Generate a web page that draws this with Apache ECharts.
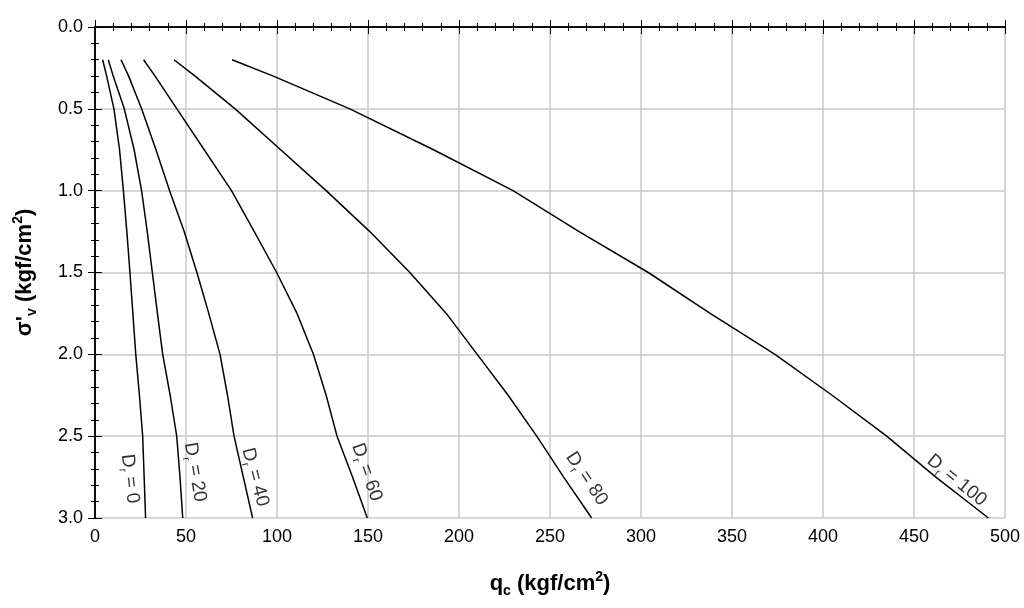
<!DOCTYPE html>
<html>
<head>
<meta charset="utf-8">
<script src="https://cdn.jsdelivr.net/npm/echarts@6/dist/echarts.min.js"></script>
<style>
  html, body { margin: 0; padding: 0; background: #fff; }
  #chart { width: 1024px; height: 608px; }
</style>
</head>
<body>
<div id="chart"></div>
<script>
// vertical effective stress (kgf/cm2), shared by all curves
var sigmaV = [0.2, 0.3, 0.5, 0.75, 1.0, 1.25, 1.5, 1.75, 2.0, 2.25, 2.5, 2.75, 3.0];

// cone resistance qc (kgf/cm2) for each relative density
var qcDr0   = [4.2, 6.4, 10.4, 13.5, 15.6, 17.5, 19.2, 20.8, 22.4, 24.4, 26.2, 27.0, 27.8];
var qcDr20  = [7.3, 10.0, 16.1, 21.5, 25.6, 28.7, 31.5, 34.3, 37.2, 41.3, 44.9, 46.7, 48.2];
var qcDr40  = [14.3, 18.5, 25.6, 33.5, 41.0, 49.0, 56.0, 62.5, 68.7, 72.8, 76.4, 81.5, 86.6];
var qcDr60  = [26.7, 33.0, 45.0, 60.0, 75.0, 87.5, 99.8, 111.0, 120.0, 127.0, 133.0, 141.5, 149.6];
var qcDr80  = [43.4, 55.0, 77.0, 102.0, 127.0, 151.0, 173.0, 193.0, 210.0, 227.0, 242.7, 257.5, 272.9];
var qcDr100 = [75.3, 98.0, 140.0, 186.0, 229.7, 266.0, 304.0, 338.0, 373.6, 405.0, 435.0, 462.0, 490.9];

var densities = [0, 20, 40, 60, 80, 100];
var curves = [qcDr0, qcDr20, qcDr40, qcDr60, qcDr80, qcDr100];

// where the "Dr = .." labels sit along each curve
var labelQc = [19.2, 55.0, 88.0, 149.3, 270.2, 473.5];
var labelSv = [2.76, 2.72, 2.75, 2.72, 2.76, 2.77];
var labelAngle = [-83, -80, -75, -71, -56, -39];

var myChart = echarts.init(document.getElementById("chart"));

var FONT = "Liberation Sans, Arial, sans-serif";

var series = curves.map(function (qc, i) {
  return {
    name: "Dr = " + densities[i],
    type: "line",
    showSymbol: false,
    symbol: "none",
    smooth: false,
    lineStyle: { color: "#000", width: 1.5 },
    data: qc.map(function (q, k) { return [q, sigmaV[k]]; })
  };
});

series.push({
  type: "scatter",
  symbolSize: 0,
  silent: true,
  data: labelQc.map(function (q, i) {
    return {
      value: [q, labelSv[i]],
      label: {
        show: true,
        position: "inside",
        rotate: labelAngle[i],
        formatter: "{m|D}{s|r}{m| = " + densities[i] + "}",
        rich: {
          m: { fontSize: 19, fontFamily: FONT, color: "#000", lineHeight: 24 },
          s: { fontSize: 11, fontFamily: FONT, color: "#000", verticalAlign: "bottom", lineHeight: 24 }
        }
      }
    };
  })
});

var tickStyle = { color: "#000", width: 1 };
var axisLineStyle = { color: "#000", width: 1.5 };

var nameRich = {
  b: { fontSize: 22, fontWeight: "bold", fontFamily: FONT, color: "#000", lineHeight: 28 },
  sub: { fontSize: 14, fontWeight: "bold", fontFamily: FONT, color: "#000", verticalAlign: "bottom", lineHeight: 28 },
  sup: { fontSize: 14, fontWeight: "bold", fontFamily: FONT, color: "#000", verticalAlign: "top", lineHeight: 28 }
};

var option = {
  animation: false,
  grid: { left: 95, right: 19, top: 27, bottom: 90 },
  xAxis: [
    {
      type: "value",
      min: 0,
      max: 500,
      interval: 50,
      name: "{b|q}{sub|c}{b| (kgf/cm}{sup|2}{b|)}",
      nameLocation: "middle",
      nameGap: 52,
      nameTextStyle: { rich: nameRich },
      axisLine: { show: true, lineStyle: axisLineStyle },
      axisTick: { show: true, inside: true, length: 7, lineStyle: tickStyle },
      minorTick: { show: true, splitNumber: 5, length: 4, lineStyle: tickStyle },
      axisLabel: { fontSize: 18, fontFamily: FONT, color: "#000", margin: 10 },
      splitLine: { show: true, lineStyle: { color: "#c8c8c8", width: 1.5 } }
    },
    {
      type: "value",
      position: "top",
      min: 0,
      max: 500,
      interval: 50,
      axisLine: { show: true, lineStyle: axisLineStyle },
      axisTick: { show: true, inside: true, length: 7, lineStyle: tickStyle },
      minorTick: { show: true, splitNumber: 5, length: 4, lineStyle: tickStyle },
      axisLabel: { show: false },
      splitLine: { show: false }
    }
  ],
  yAxis: [
    {
      type: "value",
      inverse: true,
      min: 0,
      max: 3,
      interval: 0.5,
      name: "{b|σ'}{sub|v}{b| (kgf/cm}{sup|2}{b|)}",
      nameLocation: "middle",
      nameRotate: 90,
      nameGap: 56,
      nameTextStyle: { rich: nameRich },
      axisLine: { show: true, lineStyle: axisLineStyle },
      axisTick: { show: true, inside: true, length: 7, lineStyle: tickStyle },
      minorTick: { show: true, splitNumber: 5, length: 4, lineStyle: tickStyle },
      axisLabel: {
        fontSize: 18,
        fontFamily: FONT,
        color: "#000",
        margin: 12,
        formatter: function (v) { return v.toFixed(1); }
      },
      splitLine: { show: true, lineStyle: { color: "#c8c8c8", width: 1.5 } }
    },
    {
      type: "value",
      position: "right",
      inverse: true,
      min: 0,
      max: 3,
      interval: 0.5,
      axisLine: { show: true, lineStyle: axisLineStyle },
      axisTick: { show: true, inside: true, length: 7, lineStyle: tickStyle },
      minorTick: { show: true, splitNumber: 5, length: 4, lineStyle: tickStyle },
      axisLabel: { show: false },
      splitLine: { show: false }
    }
  ],
  series: series
};

myChart.setOption(option);
</script>
</body>
</html>
